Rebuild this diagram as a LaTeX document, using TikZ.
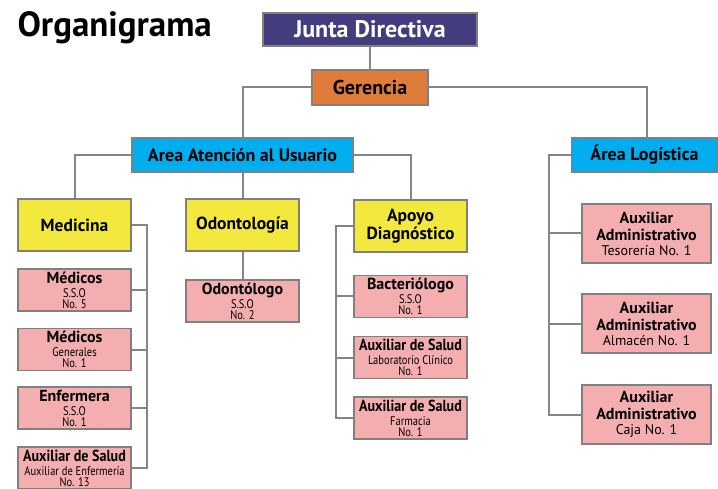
\documentclass[tikz,border=0pt]{standalone}
\usepackage{fontspec}
\usepackage{graphicx}
\setmainfont{PT Sans}
\newcommand{\tightlines}{\lineskiplimit=-20pt\relax}
\begin{document}
\begin{tikzpicture}[x=1pt,y=-1pt,
  box/.style={draw=boxgray,line width=1.5pt,inner sep=0pt,align=center,font=\bfseries},
  conn/.style={draw=linegray,line width=2pt},
  top/.style={box,fill=purp,text=white,font=\bfseries\fontsize{24}{26}\selectfont},
  ger/.style={box,fill=orng,font=\bfseries\fontsize{20}{22}\selectfont},
  area/.style={box,fill=cyanb,font=\bfseries\fontsize{18}{20}\selectfont},
  dept/.style={box,fill=yell,minimum width=113pt,minimum height=52pt,font=\bfseries\fontsize{17.5}{19}\selectfont},
  staff/.style={box,fill=pinkb,minimum width=113pt,minimum height=42pt,
    font=\fontsize{12.5}{11}\selectfont\tightlines},
  adm/.style={box,fill=pinkb,minimum width=129pt,minimum height=59pt,
    font=\bfseries\fontsize{16}{17}\selectfont\tightlines}]
\definecolor{boxgray}{HTML}{808080}
\definecolor{linegray}{HTML}{858585}
\definecolor{purp}{HTML}{433D80}
\definecolor{orng}{HTML}{E07C39}
\definecolor{cyanb}{HTML}{00AEEF}
\definecolor{yell}{HTML}{F3E93E}
\definecolor{pinkb}{HTML}{F5AEAF}
\newcommand{\ttl}[1]{{\bfseries\fontsize{16}{15}\selectfont #1}}
\newcommand{\ttlc}[1]{\scalebox{0.88}[1]{\bfseries\fontsize{16}{15}\selectfont #1}}
\newcommand{\sub}[1]{\scalebox{0.84}[1]{\mdseries #1}}
\newcommand{\subb}[1]{{\mdseries\fontsize{14}{14}\selectfont #1}}
\useasboundingbox (0,0) rectangle (718,489);
\fill[white] (0,0) rectangle (718,489);

\node[anchor=west,font=\bfseries\fontsize{35}{38}\selectfont] (title) at (14,28) {Organigrama};

\node[top,minimum width=214pt,minimum height=33pt] (junta) at (370,29.5) {Junta Directiva};
\node[ger,minimum width=116pt,minimum height=35pt] (ger) at (370,87.5) {Gerencia};
\node[area,minimum width=221pt,minimum height=34pt] (aten) at (242.5,155) {Area Atención al Usuario};
\node[area,minimum width=146pt,minimum height=34pt] (logi) at (644.5,155) {Área Logística};

\node[dept] (med) at (74.5,225) {Medicina};
\node[dept] (odo) at (242.5,225) {Odontología};
\node[dept] (apo) at (410.5,226) {Apoyo\\[-1pt]Diagnóstico};

\node[staff] (m1) at (74.5,290) {\ttl{Médicos}\\[3pt]\sub{S.S.O}\\\sub{No. 5}};
\node[staff] (m2) at (74.5,349.5) {\ttl{Médicos}\\[3pt]\sub{Generales}\\\sub{No. 1}};
\node[staff] (m3) at (74.5,408) {\ttl{Enfermera}\\[3pt]\sub{S.S.O}\\\sub{No. 1}};
\node[staff] (m4) at (74.5,468) {\ttlc{Auxiliar de Salud}\\[3pt]\sub{Auxiliar de Enfermería}\\\sub{No. 13}};

\node[staff] (o1) at (242.5,301) {\ttl{Odontólogo}\\[3pt]\sub{S.S.O}\\\sub{No. 2}};

\node[staff] (a1) at (410.5,296.5) {\ttl{Bacteriólogo}\\[3pt]\sub{S.S.O}\\\sub{No. 1}};
\node[staff] (a2) at (410.5,357.5) {\ttlc{Auxiliar de Salud}\\[3pt]\sub{Laboratorio Clínico}\\\sub{No. 1}};
\node[staff] (a3) at (410.5,418) {\ttlc{Auxiliar de Salud}\\[3pt]\sub{Farmacia}\\\sub{No. 1}};

\node[adm] (l1) at (646.5,233.5) {Auxiliar\\Administrativo\\[-2pt]\subb{Tesorería No. 1}};
\node[adm] (l2) at (646.5,323.5) {Auxiliar\\Administrativo\\[-2pt]\subb{Almacén No. 1}};
\node[adm] (l3) at (646.5,414.5) {Auxiliar\\Administrativo\\[-2pt]\subb{Caja No. 1}};

\coordinate (mbus) at (147,0);
\coordinate (abus) at (336,0);
\coordinate (lbus) at (549,0);
\coordinate (lgtop) at (647,0);

\draw[conn] (junta.south) -- (ger.north);
\draw[conn] (ger.west) -| (aten.north);
\draw[conn] (ger.east) -- (lgtop |- ger.east) -- (lgtop |- logi.north);
\draw[conn] (aten.west) -| (med.north);
\draw[conn] (aten.south) -- (odo.north);
\draw[conn] (aten.east) -| (apo.north);
\draw[conn] (odo.south) -- (o1.north);
\draw[conn] (med.east) -- (mbus |- med.east) -- (mbus |- m4.east) -- (m4.east);
\draw[conn] (mbus |- m1.east) -- (m1.east);
\draw[conn] (mbus |- m2.east) -- (m2.east);
\draw[conn] (mbus |- m3.east) -- (m3.east);
\draw[conn] (apo.west) -- (abus |- apo.west) -- (abus |- a3.west) -- (a3.west);
\draw[conn] (abus |- a1.west) -- (a1.west);
\draw[conn] (abus |- a2.west) -- (a2.west);
\draw[conn] (logi.west) -- (lbus |- logi.west) -- (lbus |- l3.west) -- (l3.west);
\draw[conn] (lbus |- l1.west) -- (l1.west);
\draw[conn] (lbus |- l2.west) -- (l2.west);
\end{tikzpicture}
\end{document}
